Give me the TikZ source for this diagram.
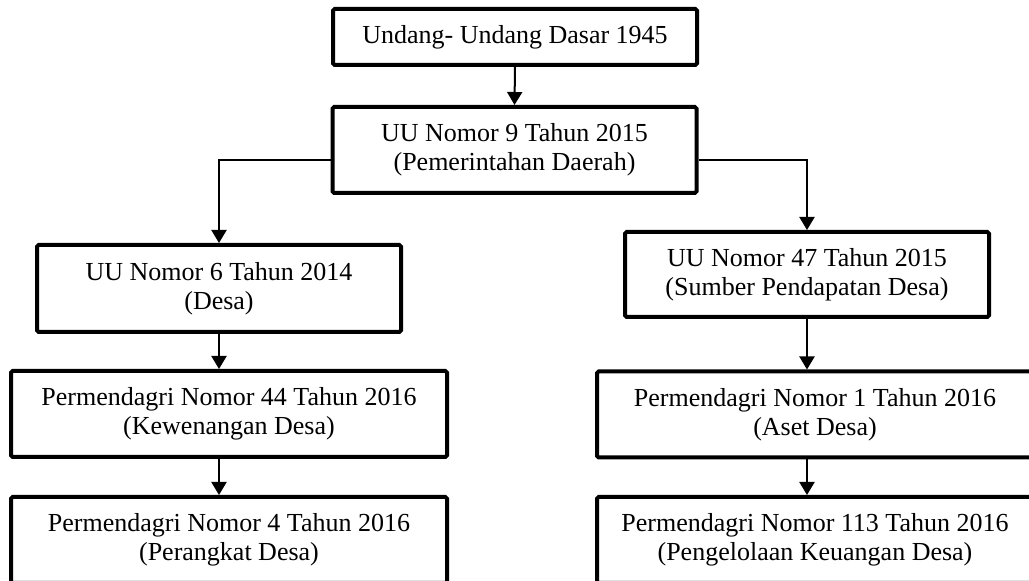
\documentclass[tikz,border=0pt]{standalone}
\usepackage{fontspec}
\setmainfont{Liberation Serif}
\usetikzlibrary{arrows.meta}
\tikzset{
  kotak/.style={draw,line width=2pt,rounded corners=0.8pt,align=center,inner sep=0pt,
    font=\fontsize{13}{14.5}\selectfont},
  panah/.style={line width=1pt,-{Triangle[length=6.5pt,width=7.5pt]}}
}
\begin{document}
\begin{tikzpicture}[x=0.5pt,y=-0.5pt]
    \def\lebar{182pt} \def\lebarb{218pt} \def\tinggi{43pt} % ukuran kotak
    \useasboundingbox (0,0) rectangle (1029,581);
    \clip (0,0) rectangle (1029,581);
    \node[kotak,minimum width=\lebar,minimum height=28pt] (uud) at (515,37) {Undang- Undang Dasar 1945};
    \node[kotak,minimum width=\lebar,minimum height=\tinggi] (uu9) at (514.5,150) {UU Nomor 9 Tahun 2015\\(Pemerintahan Daerah)};
    \node[kotak,minimum width=\lebar,minimum height=43.5pt] (uu6) at (219,288.5) {UU Nomor 6 Tahun 2014\\(Desa)};
    \node[kotak,minimum width=\lebar,minimum height=42.5pt] (uu47) at (807,274.5) {UU Nomor 47 Tahun 2015\\(Sumber Pendapatan Desa)};
    \node[kotak,minimum width=\lebarb,minimum height=\tinggi] (pm44) at (229,414) {Permendagri Nomor 44 Tahun 2016\\(Kewenangan Desa)};
    \node[kotak,minimum width=\lebarb,minimum height=\tinggi] (pm4) at (229,540) {Permendagri Nomor 4 Tahun 2016\\(Perangkat Desa)};
    \node[kotak,minimum width=\lebarb,minimum height=\tinggi] (pm1) at (815,414.5) {Permendagri Nomor 1 Tahun 2016\\(Aset Desa)};
    \node[kotak,minimum width=\lebarb,minimum height=\tinggi] (pm113) at (815,540) {Permendagri Nomor 113 Tahun 2016\\(Pengelolaan Keuangan Desa)};
    \coordinate (cabang) at (515,160);
    \draw[panah] (uud.south) -- (uu9.north);
    \draw[panah] (uu9.west |- cabang) -| (uu6.north);
    \draw[panah] (uu9.east |- cabang) -| (uu47.north);
    \draw[panah] (uu6.south) -- (uu6 |- pm44.north);
    \draw[panah] (pm44.south -| uu6) -- (pm4.north -| uu6);
    \draw[panah] (uu47.south) -- (uu47 |- pm1.north);
    \draw[panah] (pm1.south -| uu47) -- (pm113.north -| uu47);
\end{tikzpicture}
\end{document}
